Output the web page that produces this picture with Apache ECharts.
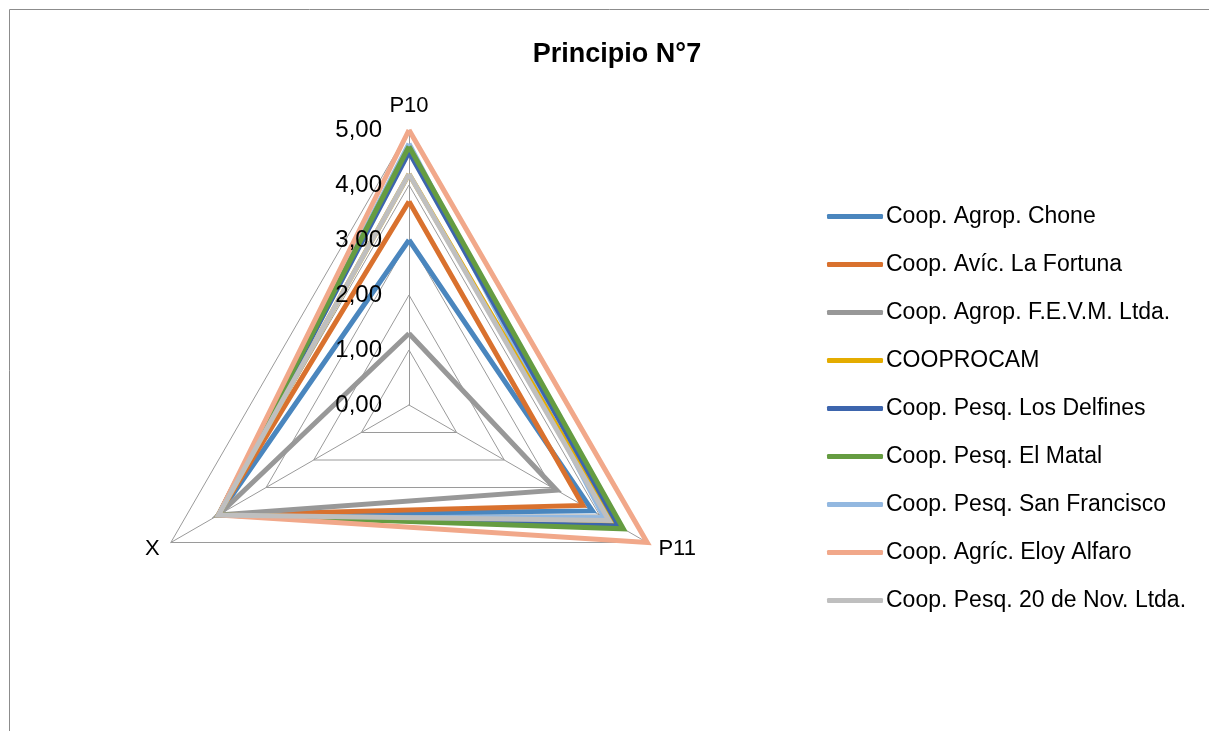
<!DOCTYPE html>
<html lang="es">
<head>
    <meta charset="UTF-8">
    <title>Principio N°7</title>
    <style type="text/css">
        * { margin: 0; padding: 0; }
        html, body { width: 100%; height: 100%; background: #fff; }
        #chart-panel { width: 1209px; height: 731px; }
    </style>
</head>
<body>
<div id="chart-panel"></div>
<script src="https://cdn.jsdelivr.net/npm/echarts@6/dist/echarts.min.js"></script>
<script>
    var myChart = echarts.init(document.getElementById('chart-panel'));

    // ejes del radar (ECharts los coloca en sentido antihorario: P10 arriba, X abajo-izq., P11 abajo-der.)
    let indicators = ['P10', 'X', 'P11'];
    let tickLabels = [0, 1, 2, 3, 4, 5];
    let cooperativas = [
        'Coop. Agrop. Chone',
        'Coop. Avíc. La Fortuna',
        'Coop. Agrop. F.E.V.M. Ltda.',
        'COOPROCAM',
        'Coop. Pesq. Los Delfines',
        'Coop. Pesq. El Matal',
        'Coop. Pesq. San Francisco',
        'Coop. Agríc. Eloy Alfaro',
        'Coop. Pesq. 20 de Nov. Ltda.'
    ];
    // valores en el orden P10, X, P11
    let chone = [3.0, 4, 3.85];
    let fortuna = [3.7, 4, 3.65];
    let fevm = [1.3, 4, 3.1];
    let cooprocam = [4.2, 4, 4.3];
    let delfines = [4.6, 4, 4.4];
    let matal = [4.7, 4, 4.5];
    let sanFrancisco = [4.75, 4, 4.1];
    let eloyAlfaro = [5, 4, 5];
    let noviembre = [4.2, 4, 4.2];

    let values = [chone, fortuna, fevm, cooprocam, delfines, matal, sanFrancisco, eloyAlfaro, noviembre];
    let color = ['#4a86be', '#d9712e', '#989898', '#e4ac00', '#3d65ad', '#659c41', '#93b8e0', '#f1a88a', '#bfbfbf'];
    // San Francisco queda por debajo de El Matal en la punta
    let zOrder = [2, 2, 2, 2, 2, 2, 1, 2, 2];

    const fontFam = "'Liberation Sans', 'DejaVu Sans', sans-serif";

    var option = {
        color: color,
        animation: false,
        title: {
            text: 'Principio N°7',
            left: 612,
            textAlign: 'center',
            top: 36,
            textStyle: { fontFamily: fontFam, fontSize: 27, fontWeight: 'bold', color: '#000' }
        },
        graphic: [{
            type: 'rect',
            shape: { x: 9.5, y: 9.5, width: 1230, height: 760 },
            style: { fill: 'none', stroke: '#8c8c8c', lineWidth: 1 },
            silent: true
        }],
        legend: {
            orient: 'vertical',
            left: 822,
            top: 200,
            itemWidth: 56,
            itemHeight: 5,
            itemGap: 25,
            icon: 'roundRect',
            textStyle: { fontFamily: fontFam, fontSize: 23, color: '#000', padding: [0, 0, 0, -2] },
            data: cooperativas
        },
        radar: {
            center: [409, 405],
            radius: 275,
            startAngle: 90,
            shape: 'polygon',
            splitNumber: 5,
            indicator: indicators.map(n => ({ name: n, min: 0, max: 5 })),
            axisName: { color: '#000', fontFamily: fontFam, fontSize: 22 },
            nameGap: 13,
            axisLine: { lineStyle: { color: '#9a9a9a', width: 1 } },
            splitLine: { lineStyle: { color: '#9a9a9a', width: 1 } },
            splitArea: { show: false },
            axisLabel: { show: false }
        },
        // eje auxiliar solo para las etiquetas 0,00 ... 5,00 sobre P10
        grid: { left: 409, top: 130, width: 1, height: 275 },
        xAxis: { type: 'value', show: false },
        yAxis: {
            type: 'value',
            min: 0,
            max: 5,
            interval: 1,
            z: 10,
            axisLine: { show: false },
            axisTick: { show: false },
            splitLine: { show: false },
            axisLabel: {
                margin: 27,
                fontFamily: fontFam,
                fontSize: 24,
                color: '#000',
                formatter: v => tickLabels.indexOf(v) >= 0 ? v.toFixed(2).replace('.', ',') : ''
            }
        },
        series: cooperativas.map((name, i) => ({
            type: 'radar',
            name: name,
            symbol: 'none',
            z: zOrder[i],
            lineStyle: { color: color[i], width: 5, join: 'miter' },
            itemStyle: { color: color[i] },
            data: [{ name: name, value: values[i] }]
        }))
    };
    myChart.setOption(option);
</script>
</body>
</html>
